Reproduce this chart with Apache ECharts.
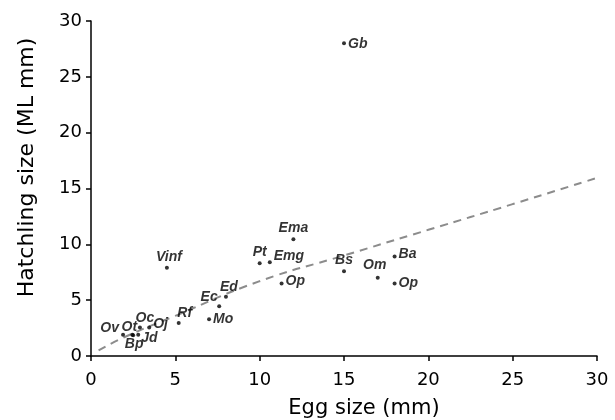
<!DOCTYPE html>
<html>
<head>
<meta charset="utf-8">
<script src="https://cdn.jsdelivr.net/npm/echarts@6/dist/echarts.min.js"></script>
<style>
  html, body { margin: 0; padding: 0; background: #fff; }
  #main { width: 615px; height: 420px; }
</style>
</head>
<body>
<div id="main"></div>
<script>
// species codes and measurements (egg size mm, hatchling ML mm)
var species = ['Gb', 'Ema', 'Pt', 'Emg', 'Op', 'Bs', 'Om', 'Ba', 'Op', 'Vinf',
  'Ed', 'Ec', 'Mo', 'Rf', 'Oc', 'Oj', 'Ov', 'Ot', 'Jd', 'Bp'];
var eggSize = [15, 12, 10, 10.6, 11.3, 15, 17, 18, 18, 4.5,
  8, 7.6, 7, 5.2, 2.9, 3.45, 1.9, 2.45, 2.8, 2.5];
var hatchSize = [28, 10.45, 8.3, 8.4, 6.5, 7.6, 7, 8.9, 6.5, 7.9,
  5.3, 4.45, 3.3, 2.95, 2.55, 2.55, 1.9, 1.9, 1.9, 1.85];

// dashed trend curve
var fitX = [0.45, 2, 5, 10, 15, 20, 25, 30];
var fitY = [0.5, 1.7, 3.6, 6.7, 9.0, 11.3, 13.6, 15.95];

// where each label sits relative to its dot
var labelPlace = [
  ['right', [0, 1]], ['top', [0, 0]], ['top', [0, 0]], ['right', [0, -6]],
  ['right', [0, -2]], ['top', [0, 0]], ['top', [-3, -2]], ['right', [0, -2]],
  ['right', [0, 0]], ['top', [2, 0]], ['top', [3, 1]], ['top', [-10, 2]],
  ['right', [0, 0]], ['top', [6, 1]], ['top', [5, 2]], ['right', [0, -3]],
  ['left', [0, -7]], ['top', [-3, 3]], ['right', [-1, 3]], ['bottom', [1, -2]]
];

var points = species.map(function (name, i) {
  return {
    name: name,
    value: [eggSize[i], hatchSize[i]],
    label: {
      position: labelPlace[i][0],
      offset: labelPlace[i][1],
      distance: 2
    }
  };
});

var fitLine = fitX.map(function (x, i) {
  return [x, fitY[i]];
});

var chart = echarts.init(document.getElementById('main'));
var axisText = { color: '#000', fontSize: 18, fontFamily: 'DejaVu Sans' };

chart.setOption({
  backgroundColor: '#fff',
  animation: false,
  grid: { left: 91, right: 18, top: 21, bottom: 64, outerBoundsMode: 'none', containLabel: false },
  xAxis: {
    type: 'value',
    min: 0, max: 30, interval: 5,
    name: 'Egg size (mm)',
    nameLocation: 'middle',
    nameGap: 42,
    nameTextStyle: { color: '#000', fontSize: 21, fontFamily: 'DejaVu Sans', padding: [0, 0, 0, 40] },
    axisLine: { lineStyle: { color: '#000', width: 1.5 } },
    axisTick: { show: true, inside: false, length: 5, lineStyle: { color: '#000', width: 1.5 } },
    axisLabel: Object.assign({ margin: 15 }, axisText),
    splitLine: { show: false }
  },
  yAxis: {
    type: 'value',
    min: 0, max: 30, interval: 5,
    name: 'Hatchling size (ML mm)',
    nameLocation: 'middle',
    nameGap: 53,
    nameTextStyle: { color: '#000', fontSize: 22, fontFamily: 'DejaVu Sans', padding: [0, 0, 0, 42] },
    axisLine: { show: true, lineStyle: { color: '#000', width: 1.5 } },
    axisTick: { show: true, inside: false, length: 5, lineStyle: { color: '#000', width: 1.5 } },
    axisLabel: Object.assign({ margin: 9 }, axisText),
    splitLine: { show: false }
  },
  series: [
    {
      type: 'line',
      data: fitLine,
      smooth: true,
      symbol: 'none',
      silent: true,
      lineStyle: { color: '#8c8c8c', width: 2, type: [8, 6] },
      z: 1
    },
    {
      type: 'scatter',
      data: points,
      symbolSize: 4,
      itemStyle: { color: '#000' },
      label: {
        show: true,
        formatter: '{b}',
        color: '#000',
        fontSize: 14,
        fontWeight: 'bold',
        fontStyle: 'italic',
        fontFamily: 'Liberation Sans'
      },
      z: 3
    }
  ]
});
</script>
</body>
</html>
